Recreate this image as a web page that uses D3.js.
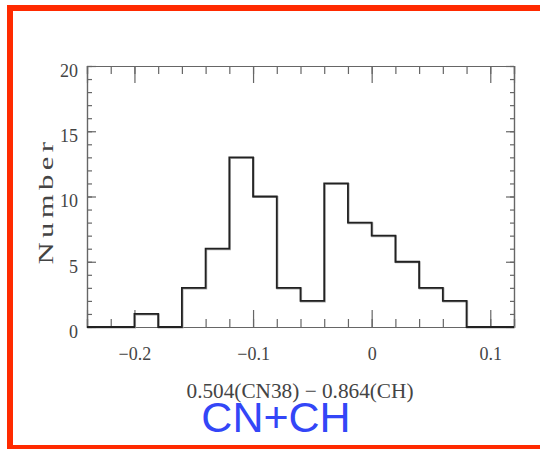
<!DOCTYPE html>
<html>
<head>
<meta charset="utf-8">
<script src="https://cdn.jsdelivr.net/npm/d3@7"></script>
<style>
  body { margin: 0; background: #fff; overflow: hidden; }
  svg { display: block; }
</style>
</head>
<body>
<div id="chart"></div>
<script>
const kWidth = 540;
const kHeight = 449;

// histogram bins (left edges, width 0.02) and counts
const binStarts = [-0.24, -0.22, -0.20, -0.18, -0.16, -0.14, -0.12, -0.10, -0.08,
                   -0.06, -0.04, -0.02, 0.00, 0.02, 0.04, 0.06, 0.08, 0.10];
const counts = [0, 0, 1, 0, 3, 6, 13, 10, 3, 2, 11, 8, 7, 5, 3, 2, 0, 0];
const binWidth = 0.02;

const xMajorTicks = [-0.2, -0.1, 0, 0.1];
const yMajorTicks = [0, 5, 10, 15, 20];
const xTitle = "0.504(CN38) \u2212 0.864(CH)";
const yTitle = "Number";
const caption = "CN+CH";

const svg = d3.select("#chart")
  .append("svg")
  .attr("width", kWidth)
  .attr("height", kHeight);

const x = d3.scaleLinear().domain([-0.24, 0.12]).range([87, 514]);
const y = d3.scaleLinear().domain([0, 20]).range([327, 66]);

const axisColor = "#666";
const labelColor = "#444";
const serif = "'Liberation Serif', 'DejaVu Serif', serif";

// red frame, right side runs off the page
svg.append("rect")
  .attr("x", 10).attr("y", 8)
  .attr("width", 700).attr("height", 440)
  .attr("fill", "none")
  .attr("stroke", "#ff2a00")
  .attr("stroke-width", 6);

const minorX = d3.range(-0.24, 0.1201, 0.02).map(v => +v.toFixed(2));
const minorY = d3.range(0, 21, 1);

function styleAxis(g) {
  g.select(".domain").attr("stroke", axisColor).attr("stroke-width", 1.2);
  g.selectAll(".tick line").attr("stroke", axisColor).attr("stroke-width", 1.2);
  g.selectAll("text")
    .attr("fill", labelColor)
    .style("font-family", serif)
    .style("font-size", "18px");
}

// bottom axis: minor ticks then labelled major ticks
svg.append("g")
  .attr("transform", `translate(0,${y(0)})`)
  .call(d3.axisBottom(x).tickValues(minorX).tickSize(-8).tickFormat(""))
  .call(styleAxis);
svg.append("g")
  .attr("transform", `translate(0,${y(0)})`)
  .call(d3.axisBottom(x).tickValues(xMajorTicks).tickSize(-17).tickPadding(20)
    .tickFormat(d3.format(".1~f")))
  .call(styleAxis);

// top axis
svg.append("g")
  .attr("transform", `translate(0,${y(20)})`)
  .call(d3.axisTop(x).tickValues(minorX).tickSize(-8).tickFormat(""))
  .call(styleAxis);
svg.append("g")
  .attr("transform", `translate(0,${y(20)})`)
  .call(d3.axisTop(x).tickValues(xMajorTicks).tickSize(-17).tickFormat(""))
  .call(styleAxis);

// left axis
svg.append("g")
  .attr("transform", `translate(${x(-0.24)},0)`)
  .call(d3.axisLeft(y).tickValues(minorY).tickSize(-5).tickFormat(""))
  .call(styleAxis);
svg.append("g")
  .attr("transform", `translate(${x(-0.24)},0)`)
  .call(d3.axisLeft(y).tickValues(yMajorTicks).tickSize(-9).tickPadding(9))
  .call(styleAxis)
  .call(g => g.selectAll("text").attr("dy", "0.57em"));

// right axis
svg.append("g")
  .attr("transform", `translate(${x(0.12)},0)`)
  .call(d3.axisRight(y).tickValues(minorY).tickSize(-4).tickFormat(""))
  .call(styleAxis);
svg.append("g")
  .attr("transform", `translate(${x(0.12)},0)`)
  .call(d3.axisRight(y).tickValues(yMajorTicks).tickSize(-8).tickFormat(""))
  .call(styleAxis);

// histogram outline as a step line
const pts = binStarts.map((b, i) => [b, counts[i]]);
pts.push([binStarts[binStarts.length - 1] + binWidth, counts[counts.length - 1]]);

const step = d3.line()
  .x(d => x(d[0]))
  .y(d => y(d[1]))
  .curve(d3.curveStepAfter);

svg.append("path")
  .datum(pts)
  .attr("d", step)
  .attr("transform", "translate(0.6,0.6)")
  .attr("fill", "none")
  .attr("stroke", "#aaa")
  .attr("stroke-width", 2);

svg.append("path")
  .datum(pts)
  .attr("d", step)
  .attr("fill", "none")
  .attr("stroke", "#222")
  .attr("stroke-width", 1.8);

// axis titles
svg.append("text")
  .attr("transform", `translate(53,201) rotate(-90)`)
  .attr("text-anchor", "middle")
  .attr("textLength", 127)
  .attr("lengthAdjust", "spacingAndGlyphs")
  .attr("fill", labelColor)
  .style("font-family", serif)
  .style("font-size", "21px")
  .style("letter-spacing", "3px")
  .text(yTitle);

svg.append("text")
  .attr("x", 300)
  .attr("y", 398)
  .attr("text-anchor", "middle")
  .attr("textLength", 227)
  .attr("lengthAdjust", "spacingAndGlyphs")
  .attr("fill", labelColor)
  .style("font-family", serif)
  .style("font-size", "21px")
  .text(xTitle);

svg.append("text")
  .attr("x", 276)
  .attr("y", 432)
  .attr("text-anchor", "middle")
  .attr("fill", "#3346f7")
  .style("font-family", "'Liberation Sans', Arial, sans-serif")
  .style("font-size", "43px")
  .text(caption);
</script>
</body>
</html>
